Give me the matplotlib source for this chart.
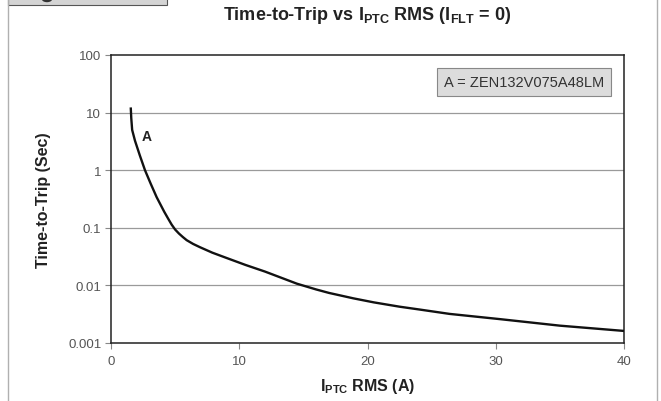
import matplotlib
matplotlib.use("Agg")
import matplotlib.pyplot as plt
from matplotlib.patches import Rectangle, Circle
from matplotlib.lines import Line2D
from matplotlib.ticker import FixedLocator, FixedFormatter, NullLocator

plt.rcParams['font.family'] = ['Liberation Sans', 'DejaVu Sans']
plt.rcParams['mathtext.fontset'] = 'custom'
plt.rcParams['mathtext.bf'] = 'Liberation Sans:bold'
plt.rcParams['mathtext.rm'] = 'Liberation Sans:bold'
plt.rcParams['mathtext.default'] = 'bf'

# Data
current_a = [1.54, 1.58, 1.65, 1.87, 2.25, 2.65, 3.1, 3.56, 4.15, 4.45, 4.73, 5.0,
             5.3, 5.6, 5.9, 6.4, 6.94, 7.9, 9.0, 10.5, 12.0, 14.5, 16.0, 17.0,
             18.9, 20.5, 22.5, 24.1, 26.4, 30.3, 35.0, 40.0]
trip_time_s = [12.3, 8.0, 5.0, 3.25, 1.8, 1.0, 0.58, 0.34, 0.19, 0.145, 0.1135, 0.0933,
               0.0794, 0.0692, 0.061, 0.0525, 0.046, 0.037, 0.030, 0.0226, 0.0174,
               0.0107, 0.0085, 0.0074, 0.00596, 0.00507, 0.00427, 0.0038, 0.0032,
               0.0026, 0.0020, 0.00162]
x_ticks = [0, 10, 20, 30, 40]
y_ticks = [0.001, 0.01, 0.1, 1, 10, 100]
y_tick_labels = ['0.001', '0.01', '0.1', '1', '10', '100']
legend_text = 'A = ZEN132V075A48LM'
curve_label = 'A'

W, H = 661, 402
fig = plt.figure(figsize=(W / 100, H / 100), dpi=100)
fig.patch.set_facecolor('white')

# page decorations
fig.add_artist(Line2D([8 / W, 8 / W], [0, 1], color='#b0b0b0', lw=1.0))
fig.add_artist(Line2D([657 / W, 657 / W], [0, 1], color='#b0b0b0', lw=1.0))
fig.add_artist(Rectangle((8 / W, 1 - 6 / H), 159 / W, 8 / H, facecolor='#d4d4d4',
                         edgecolor='#555555', lw=0.8, clip_on=False))
fig.add_artist(Circle((47 / W, 1 - 0 / H), 0.008, facecolor='#333333',
                      edgecolor='none', transform=fig.transFigure, clip_on=True))

left, right, top, bottom = 111, 624, 56, 344
ax = fig.add_axes([left / W, 1 - bottom / H, (right - left) / W, (bottom - top) / H])
ax.set_yscale('log')
ax.set_xlim(0, 40)
ax.set_ylim(0.001, 100)

ax.plot(current_a, trip_time_s, color='#111111', lw=1.7, solid_capstyle='butt',
        solid_joinstyle='round', zorder=3)

for v in [0.01, 0.1, 1, 10]:
    ax.axhline(v, color='#9a9a9a', lw=0.9, zorder=1)

ax.yaxis.set_major_locator(FixedLocator(y_ticks))
ax.yaxis.set_major_formatter(FixedFormatter(y_tick_labels))
ax.yaxis.set_minor_locator(NullLocator())
ax.set_xticks(x_ticks)
ax.tick_params(axis='both', direction='out', length=4, width=0.8, color='#888888',
               labelsize=9.5, labelcolor='#555555', pad=3)
ax.tick_params(axis='x', pad=5)

for s in ax.spines.values():
    s.set_color('#222222')
    s.set_linewidth(1.1)

ax.text(2.39, 3.9, curve_label, fontsize=10, fontweight='bold', color='#222222',
        ha='left', va='center')

ax.text(0.805, 0.906, legend_text, transform=ax.transAxes, fontsize=10.5,
        color='#333333', ha='center', va='center',
        bbox=dict(boxstyle='square,pad=0.5', facecolor='#dcdcdc', edgecolor='#888888', lw=0.8))

fig.text(367 / W, 1 - 16 / H, r'Time-to-Trip vs I$_{PTC}$ RMS (I$_{FLT}$ = 0)',
         fontsize=13, fontweight='bold', ha='center', va='center', color='#222222')
ax.set_xlabel(r'I$_{PTC}$ RMS (A)', fontsize=11.5, fontweight='bold', color='#222222',
              va='center')
ax.xaxis.set_label_coords(0.5, -(387 - bottom) / (bottom - top))
ax.set_ylabel('Time-to-Trip (Sec)', fontsize=11.5, fontweight='bold', color='#222222',
              va='center')
ax.yaxis.set_label_coords(-(left - 44) / (right - left), 0.5)

fig.savefig('out.png', dpi=100)
